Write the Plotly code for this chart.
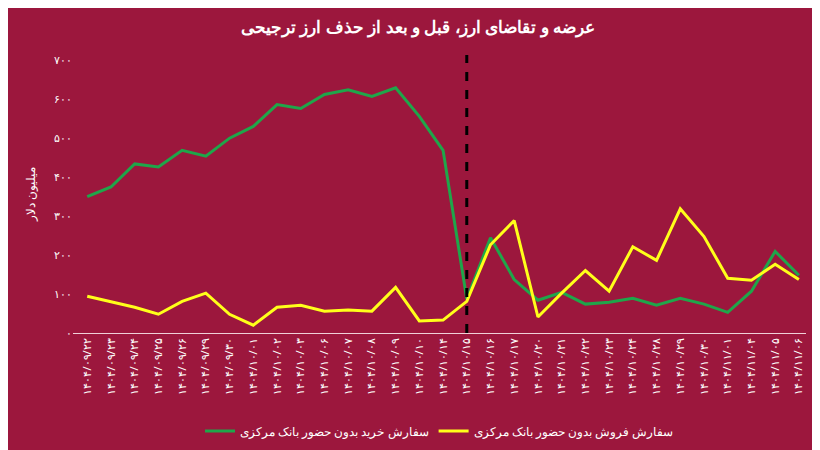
import plotly.graph_objects as go

def fa(s):
    return s.translate(str.maketrans("0123456789", "۰۱۲۳۴۵۶۷۸۹"))

dates = ["1404/09/22","1404/09/23","1404/09/24","1404/09/25","1404/09/26","1404/09/29","1404/09/30",
         "1404/10/01","1404/10/02","1404/10/03","1404/10/06","1404/10/07","1404/10/08","1404/10/09",
         "1404/10/10","1404/10/14","1404/10/15","1404/10/16","1404/10/17","1404/10/20","1404/10/21",
         "1404/10/22","1404/10/23","1404/10/24","1404/10/28","1404/10/29","1404/10/30","1404/11/01",
         "1404/11/04","1404/11/05","1404/11/06"]
buy = [349,374,433,425,468,453,499,529,585,575,611,623,606,628,555,468,87,244,137,84,104,74,79,89,71,89,74,53,107,209,148]
sell = [94,79,66,48,81,102,48,20,66,71,56,59,56,117,31,33,81,226,288,41,102,160,107,221,186,318,247,140,135,176,137]
labels = [fa(d) for d in dates]
cut = labels[16]

fig = go.Figure()
fig.add_trace(go.Scatter(x=labels, y=buy, mode="lines", name="سفارش خرید بدون حضور بانک مرکزی",
                         line=dict(color="#1fa64a", width=3)))
fig.add_trace(go.Scatter(x=labels, y=sell, mode="lines", name="سفارش فروش بدون حضور بانک مرکزی",
                         line=dict(color="#ffff1a", width=3)))
fig.add_shape(type="line", xref="x", yref="paper", x0=cut, x1=cut, y0=0, y1=1.0,
              line=dict(color="black", width=3, dash="dash"))
tv = [0,100,200,300,400,500,600,700]
fig.update_layout(
    width=820, height=450, paper_bgcolor="#9c173d", plot_bgcolor="#9c173d",
    font=dict(family="Noto Sans", color="white", size=11),
    title=dict(text="<b>عرضه و تقاضای ارز، قبل و بعد از حذف ارز ترجیحی</b>", x=0.5, y=0.97,
               font=dict(size=17, color="white")),
    margin=dict(l=65, r=22, t=47, b=115),
    showlegend=True,
    legend=dict(orientation="h", x=0.5, xanchor="center", y=-0.3, font=dict(size=12)),
    xaxis=dict(type="category", tickangle=-90, showgrid=False, showline=True, linecolor="#f0d0d8",
               tickfont=dict(size=11), range=[-0.6, 30.3]),
    yaxis=dict(range=[0, 712], tickvals=tv, ticktext=[fa(str(v)) for v in tv], showgrid=False,
               zeroline=False, title=dict(text="میلیون دلار", font=dict(size=12)), tickfont=dict(size=11)),
)
fig.write_html("out.html")
